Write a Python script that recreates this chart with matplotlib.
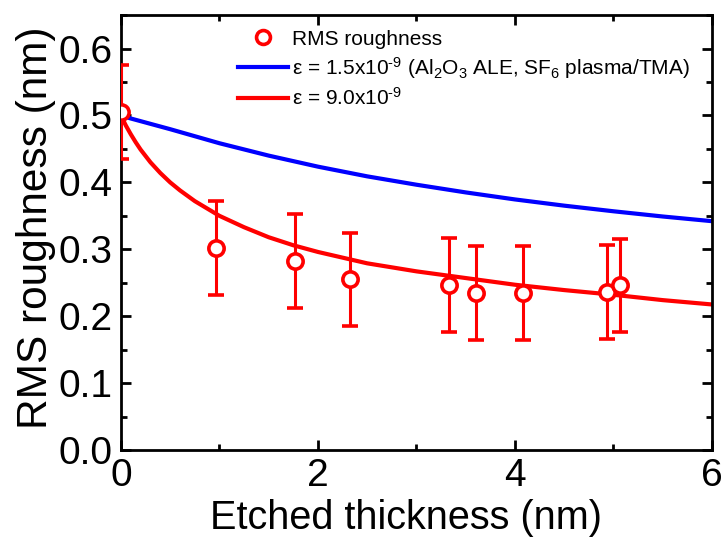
import matplotlib
matplotlib.use("Agg")
import matplotlib.pyplot as plt
from matplotlib.lines import Line2D
from matplotlib.ticker import MultipleLocator

plt.rcParams['font.family'] = ['Liberation Sans', 'DejaVu Sans']
plt.rcParams['mathtext.fontset'] = 'custom'
plt.rcParams['mathtext.rm'] = 'Liberation Sans'
plt.rcParams['mathtext.it'] = 'Liberation Sans:italic'

# measured RMS roughness
thick = [0.0, 0.965, 1.77, 2.33, 3.33, 3.60, 4.08, 4.93, 5.07]
rms = [0.505, 0.302, 0.282, 0.255, 0.247, 0.235, 0.235, 0.236, 0.246]
rms_err = [0.07, 0.07, 0.07, 0.07, 0.07, 0.07, 0.07, 0.07, 0.07]

# model curves
curve_x_blue = [0.0, 0.1, 0.25, 0.5, 0.75, 1.0, 1.5, 2.0, 2.5, 3.0, 3.5, 4.0, 4.5, 5.0, 5.5, 6.0]
curve_blue = [0.500, 0.4955, 0.4895, 0.4795, 0.469, 0.4585, 0.440, 0.4235, 0.409, 0.3965, 0.385,
              0.3745, 0.3652, 0.3568, 0.349, 0.342]

curve_x_red = [0.0, 0.02, 0.05, 0.1, 0.15, 0.2, 0.3, 0.4, 0.5, 0.6, 0.75, 1.0, 1.25, 1.5, 1.75,
               2.0, 2.5, 3.0, 3.5, 4.0, 4.5, 5.0, 5.5, 6.0]
curve_red = [0.500, 0.494, 0.485, 0.472, 0.460, 0.449, 0.430, 0.414, 0.400, 0.388, 0.372, 0.350,
             0.333, 0.318, 0.306, 0.296, 0.279, 0.267, 0.257, 0.247, 0.239, 0.232, 0.224, 0.2175]

label_data = "RMS roughness"
label_blue = "ε = 1.5x10$^{‐9}$ (Al$_2$O$_3$ ALE, SF$_6$ plasma/TMA)"
label_red = "ε = 9.0x10$^{‐9}$"


def main():
    fig = plt.figure(figsize=(7.24, 5.4), dpi=100)
    ax = fig.add_axes([0.167, 0.1667, 0.8164, 0.8053])

    ax.errorbar(thick, rms, yerr=rms_err, fmt='o', color='#ff0000',
                markersize=11, markerfacecolor='white', markeredgewidth=2.6,
                elinewidth=2.2, capsize=6, capthick=2.2, zorder=3)
    h_blue, = ax.plot(curve_x_blue, curve_blue, color='#0000ff', lw=3, zorder=2)
    h_red, = ax.plot(curve_x_red, curve_red, color='#ff0000', lw=3, zorder=2)
    h_data = Line2D([], [], ls='none', marker='o', color='#ff0000', markersize=10,
                    markerfacecolor='white', markeredgewidth=2.6)

    ax.set_xlim(0, 6)
    ax.set_ylim(0, 0.65)
    ax.xaxis.set_major_locator(MultipleLocator(2))
    ax.xaxis.set_minor_locator(MultipleLocator(1))
    ax.yaxis.set_major_locator(MultipleLocator(0.1))
    ax.yaxis.set_minor_locator(MultipleLocator(0.05))
    ax.yaxis.set_major_formatter(plt.FormatStrFormatter('%.1f'))

    ax.tick_params(which='both', direction='in', top=True, right=True, width=2,
                   labelsize=28, pad=6)
    ax.tick_params(which='major', length=7)
    ax.tick_params(which='minor', length=4)
    for s in ax.spines.values():
        s.set_linewidth(2)

    ax.set_xlabel("Etched thickness (nm)", fontsize=28.5, labelpad=0)
    ax.xaxis.set_label_coords(0.482, -0.113)
    ax.set_ylabel("RMS roughness (nm)", fontsize=30.5, labelpad=2)
    ax.yaxis.label.set_y(0.51)

    ax.legend([h_data, h_blue, h_red], [label_data, label_blue, label_red],
              loc='upper left', bbox_to_anchor=(0.17, 1.005), frameon=False,
              fontsize=15, handlelength=2.4, handletextpad=0.2, labelspacing=0.3,
              borderpad=0.3)

    fig.savefig("out.png", dpi=100)


if __name__ == "__main__":
    main()
